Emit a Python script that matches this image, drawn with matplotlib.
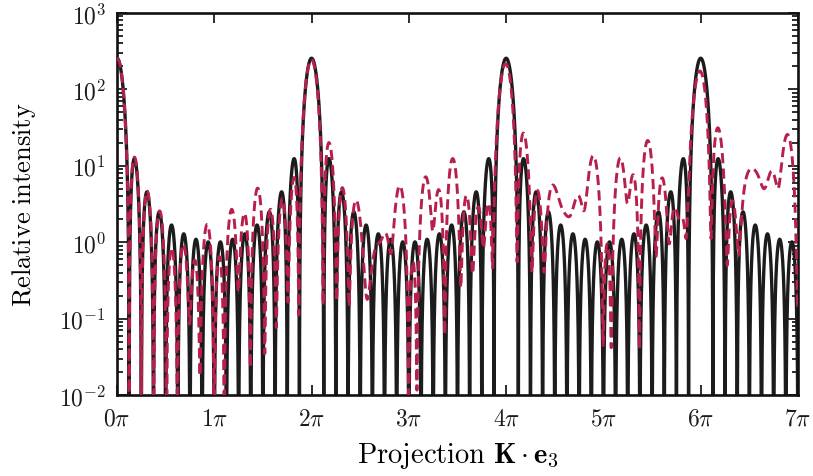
import numpy as np
import matplotlib
matplotlib.use('Agg')
import matplotlib.pyplot as plt
from matplotlib.ticker import FixedLocator, FixedFormatter, LogLocator, NullFormatter

# ---- data ----
layer_index = np.arange(16)                       # 16 scattering layers, period 1
ideal_positions = layer_index.astype(float)       # black: perfect stack
layer_displacements = [-0.0060, 0.0447, -0.0109, -0.0442, -0.0055, 0.0131,
                       -0.0324, -0.0568, 0.0298, -0.0205, 0.0389, 0.0115,
                       0.0362, 0.0385, -0.0519, 0.0155]
displaced_positions = ideal_positions + np.array(layer_displacements)  # red dashed

x_ticks_pi = [0, 1, 2, 3, 4, 5, 6, 7]
x_tick_labels = [r'$%d\pi$' % k for k in x_ticks_pi]
y_ticks = [1e-2, 1e-1, 1e0, 1e1, 1e2, 1e3]
y_tick_labels = [r'$10^{-2}$', r'$10^{-1}$', r'$10^{0}$', r'$10^{1}$', r'$10^{2}$', r'$10^{3}$']

# ---- intensity from layer positions ----
K = np.linspace(0, 7 * np.pi, 8001)


def intensity(pos):
    amp = np.exp(1j * K[:, None] * np.asarray(pos)[None, :]).sum(axis=1)
    return np.abs(amp) ** 2 + 1e-6


I_ideal = intensity(ideal_positions)
I_disp = intensity(displaced_positions)

plt.rcParams['mathtext.fontset'] = 'cm'
plt.rcParams['font.family'] = 'serif'

fig = plt.figure(figsize=(8.13, 4.77), dpi=100)
ax = fig.add_axes([117 / 813, 1 - 396 / 477, (798 - 117) / 813, (396 - 14) / 477])

ax.plot(K, I_ideal, color='#1c1c1c', lw=2.4, solid_capstyle='butt', zorder=2)
ax.plot(K, I_disp, color='#b8204c', lw=2.1, dashes=(3.5, 1.8), zorder=3)

ax.set_yscale('log')
ax.set_xlim(0, 7 * np.pi)
ax.set_ylim(1e-2, 1e3)

ax.xaxis.set_major_locator(FixedLocator([k * np.pi for k in x_ticks_pi]))
ax.xaxis.set_major_formatter(FixedFormatter(x_tick_labels))
ax.yaxis.set_major_locator(FixedLocator(y_ticks))
ax.yaxis.set_major_formatter(FixedFormatter(y_tick_labels))
ax.yaxis.set_minor_locator(LogLocator(base=10, subs=np.arange(2, 10), numticks=20))
ax.yaxis.set_minor_formatter(NullFormatter())

ax.tick_params(which='both', direction='in', top=True, right=True, labelsize=17,
               width=1.3, colors='#1c1c1c')
ax.tick_params(which='major', length=7, pad=8)
ax.tick_params(which='minor', length=4)
for s in ax.spines.values():
    s.set_linewidth(1.9)
    s.set_color('#111111')

ax.set_xlabel(r'$\mathrm{Projection}\ \mathbf{K}\cdot\mathbf{e}_3$', fontsize=20.5)
ax.set_ylabel(r'$\mathrm{Relative\ intensity}$', fontsize=19)
ax.xaxis.set_label_coords(0.5, (396 - 441) / 382)
ax.yaxis.set_label_coords((38 - 117) / 681, 0.5)

fig.savefig('out.png', dpi=100)
